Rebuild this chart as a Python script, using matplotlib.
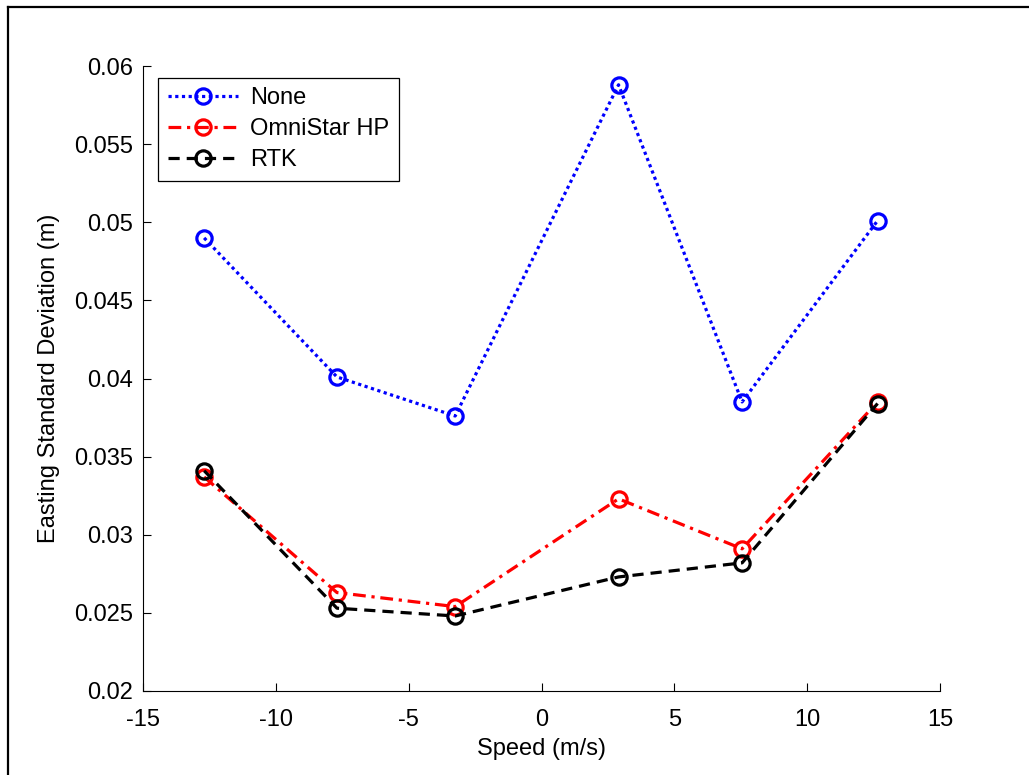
import numpy as np
import matplotlib.pyplot as plt
from matplotlib.lines import Line2D

plt.rcParams['font.family'] = ['Liberation Sans', 'DejaVu Sans']
plt.rcParams['font.size'] = 17
plt.rcParams['axes.unicode_minus'] = False

# velocidades de ensayo (m/s)
speed = [-12.7, -7.7, -3.25, 2.9, 7.55, 12.65]

# desviacion estandar en Este (m) para cada correccion
sd_none = [0.0490, 0.0401, 0.0376, 0.0588, 0.0385, 0.0501]
sd_omni = [0.0337, 0.0263, 0.0254, 0.0323, 0.0291, 0.0385]
sd_rtk = [0.0341, 0.0253, 0.0248, 0.0273, 0.0282, 0.0384]

fig = plt.figure(figsize=(10.29, 7.75), dpi=100)
ax = fig.add_axes([0.139, 0.1084, 0.7745, 0.8064])

estilo = dict(marker='o', markersize=11, markerfacecolor='none',
              markeredgewidth=2.3, linewidth=2.3)
ax.plot(speed, sd_none, color='#0000ff', markeredgecolor='#0000ff',
        linestyle=(0, (1, 1.1)), label='None', **estilo)
ax.plot(speed, sd_omni, color='#ff0000', markeredgecolor='#ff0000',
        linestyle=(0, (4, 1.8, 1, 1.8)), label='OmniStar HP', **estilo)
ax.plot(speed, sd_rtk, color='black', markeredgecolor='black',
        linestyle=(0, (3.5, 2.2)), label='RTK', **estilo)

ax.set_xlim(-15, 15)
ax.set_ylim(0.02, 0.06)
ax.set_xticks(np.arange(-15, 16, 5))
ax.set_yticks(np.arange(0.02, 0.0601, 0.005))
ax.set_yticklabels(['0.02', '0.025', '0.03', '0.035', '0.04', '0.045',
                    '0.05', '0.055', '0.06'])
ax.spines['top'].set_visible(False)
ax.spines['right'].set_visible(False)
ax.spines['left'].set_linewidth(0.8)
ax.spines['bottom'].set_linewidth(0.8)
ax.tick_params(axis='y', direction='in', length=6, width=0.8, pad=7)
ax.tick_params(axis='x', direction='in', length=6, width=0.8, pad=13)

ax.set_xlabel('Speed (m/s)', labelpad=5)
ax.set_ylabel('Easting Standard Deviation (m)', labelpad=10)

leg = ax.legend(loc='upper left', bbox_to_anchor=(0.019, 0.981),
                handlelength=3.0, handletextpad=0.5, borderpad=0.4,
                labelspacing=0.38, fancybox=False, framealpha=1,
                edgecolor='black', borderaxespad=0)
leg.get_frame().set_linewidth(0.9)

# marco de la figura
fig.add_artist(Line2D([7.5 / 1029, 1], [1 - 7 / 775, 1 - 7 / 775],
                      color='black', linewidth=1.6))
fig.add_artist(Line2D([7.5 / 1029, 7.5 / 1029], [0, 1 - 7 / 775],
                      color='black', linewidth=1.6))

fig.savefig('out.png', dpi=100)
